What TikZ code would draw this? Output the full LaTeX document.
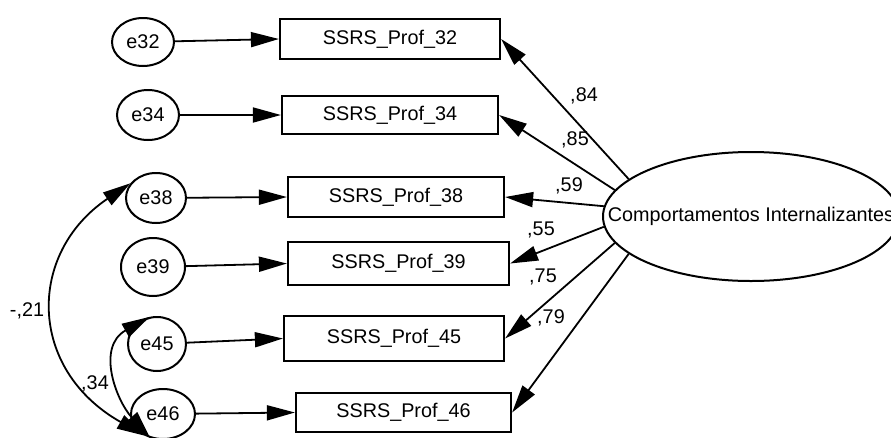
\documentclass[tikz,border=0pt]{standalone}
\usepackage{fontspec}
\setmainfont{Liberation Sans}
\usetikzlibrary{shapes.geometric,arrows.meta}
\begin{document}
\begin{tikzpicture}[x=1pt,y=-1pt,
  lat/.style={ellipse,draw,line width=2pt,inner sep=0pt},
  obs/.style={rectangle,draw,line width=2.2pt,inner sep=0pt},
  reg/.style={line width=1.8pt,-{Triangle[length=28pt,width=15pt]}},
  cov/.style={line width=1.8pt,{Triangle[length=28pt,width=15pt]}-{Triangle[length=28pt,width=15pt]}},
  lbl/.style={inner sep=0pt},
  font=\fontsize{19.8}{22}\selectfont]
\useasboundingbox (0,0) rectangle (891,437);
\clip (0,0) rectangle (891,437);
% error terms
\node[lat,minimum width=62pt,minimum height=48pt] (e32) at (143,42) {e32};
\node[lat,minimum width=62pt,minimum height=50pt] (e34) at (148,115) {e34};
\node[lat,minimum width=60pt,minimum height=50pt] (e38) at (156,198) {e38};
\node[lat,minimum width=64pt,minimum height=58pt] (e39) at (153,267) {e39};
\node[lat,minimum width=58pt,minimum height=54pt] (e45) at (157,344) {e45};
\node[lat,minimum width=64pt,minimum height=50pt] (e46) at (163,414) {e46};
% observed variables
\node[obs,minimum width=220pt,minimum height=40pt] (b32) at (390,39) {SSRS\_Prof\_32};
\node[obs,minimum width=216pt,minimum height=38pt] (b34) at (390,115) {SSRS\_Prof\_34};
\node[obs,minimum width=216pt,minimum height=40pt] (b38) at (396,197) {SSRS\_Prof\_38};
\node[obs,minimum width=221pt,minimum height=43pt] (b39) at (398.5,263.5) {SSRS\_Prof\_39};
\node[obs,minimum width=220pt,minimum height=45pt] (b45) at (394,338.5) {SSRS\_Prof\_45};
\node[obs,minimum width=215pt,minimum height=39pt] (b46) at (403.5,412.5) {SSRS\_Prof\_46};
% latent factor
\node[lat,minimum width=296pt,minimum height=129pt] (F) at (751,216.5) {\makebox[0pt]{Comportamentos Internalizantes}};
% error paths
\draw[reg] (e32) -- (b32.west);
\draw[reg] (e34) -- (b34.west);
\draw[reg] (e38) -- (b38.west);
\draw[reg] (e39) -- (b39.west);
\draw[reg] (e45) -- (b45.west);
\draw[reg] (e46) -- (b46.west);
% loadings
\draw[reg] (F.163) -- (b32.east);
\draw[reg] (F.169) -- (b34.east);
\draw[reg] (F.176) -- (b38.east);
\draw[reg] (F.184) -- (b39.east);
\draw[reg] (F.191) -- (b45.east);
\draw[reg] (F.197) -- (b46.east);
\node[lbl] (l84) at (584,96) {,84};
\node[lbl] (l85) at (575,140) {,85};
\node[lbl] (l59) at (569,186) {,59};
\node[lbl] (l55) at (541,230) {,55};
\node[lbl] (l75) at (543,277) {,75};
\node[lbl] (l79) at (551,318) {,79};
% covariances
\draw[cov] (e46.230) .. controls (27,369) and (27,253) .. (e38.150);
\draw[cov] (e46.242) .. controls (116,400) and (96,347) .. (e45.105);
\node[lbl] (l21) at (27,311) {-,21};
\node[lbl] (l34) at (95,384) {,34};
\end{tikzpicture}
\end{document}
